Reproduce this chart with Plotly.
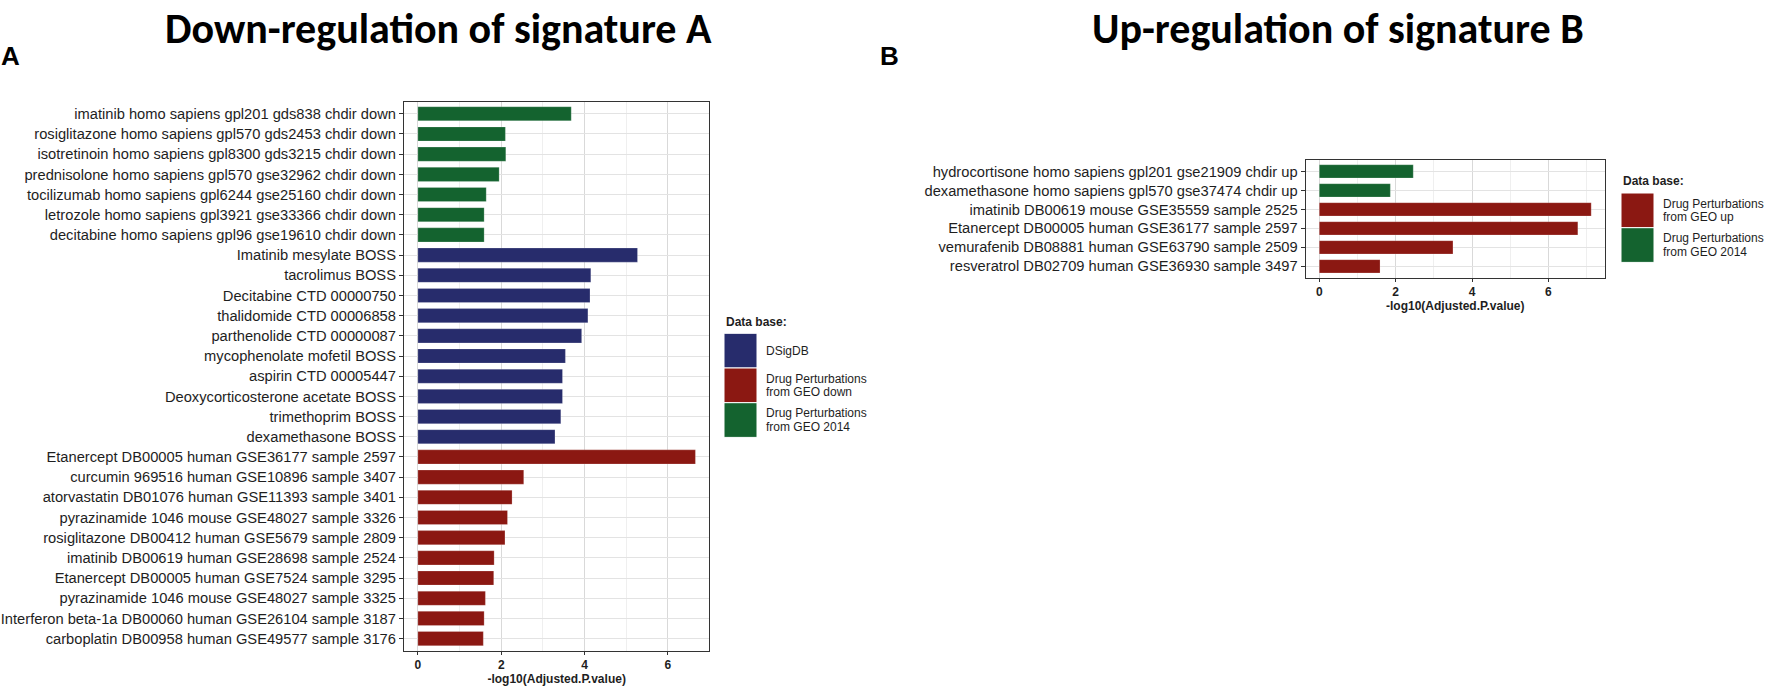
import plotly.graph_objects as go

# ---------------- data ----------------
a_labels = [
    "imatinib homo sapiens gpl201 gds838 chdir down",
    "rosiglitazone homo sapiens gpl570 gds2453 chdir down",
    "isotretinoin homo sapiens gpl8300 gds3215 chdir down",
    "prednisolone homo sapiens gpl570 gse32962 chdir down",
    "tocilizumab homo sapiens gpl6244 gse25160 chdir down",
    "letrozole homo sapiens gpl3921 gse33366 chdir down",
    "decitabine homo sapiens gpl96 gse19610 chdir down",
    "Imatinib mesylate BOSS",
    "tacrolimus BOSS",
    "Decitabine CTD 00000750",
    "thalidomide CTD 00006858",
    "parthenolide CTD 00000087",
    "mycophenolate mofetil BOSS",
    "aspirin CTD 00005447",
    "Deoxycorticosterone acetate BOSS",
    "trimethoprim BOSS",
    "dexamethasone BOSS",
    "Etanercept DB00005 human GSE36177 sample 2597",
    "curcumin 969516 human GSE10896 sample 3407",
    "atorvastatin DB01076 human GSE11393 sample 3401",
    "pyrazinamide 1046 mouse GSE48027 sample 3326",
    "rosiglitazone DB00412 human GSE5679 sample 2809",
    "imatinib DB00619 human GSE28698 sample 2524",
    "Etanercept DB00005 human GSE7524 sample 3295",
    "pyrazinamide 1046 mouse GSE48027 sample 3325",
    "Interferon beta-1a DB00060 human GSE26104 sample 3187",
    "carboplatin DB00958 human GSE49577 sample 3176",
]
a_values = [3.68, 2.10, 2.11, 1.95, 1.64, 1.59, 1.59,
            5.27, 4.15, 4.13, 4.08, 3.93, 3.54, 3.47, 3.47, 3.43, 3.29,
            6.66, 2.54, 2.26, 2.15, 2.09, 1.83, 1.82, 1.62, 1.59, 1.57]
a_db = (["Drug Perturbations from GEO 2014"] * 7
        + ["DSigDB"] * 10
        + ["Drug Perturbations from GEO down"] * 10)
a_legend = ["DSigDB", "Drug Perturbations from GEO down", "Drug Perturbations from GEO 2014"]

b_labels = [
    "hydrocortisone homo sapiens gpl201 gse21909 chdir up",
    "dexamethasone homo sapiens gpl570 gse37474 chdir up",
    "imatinib DB00619 mouse GSE35559 sample 2525",
    "Etanercept DB00005 human GSE36177 sample 2597",
    "vemurafenib DB08881 human GSE63790 sample 2509",
    "resveratrol DB02709 human GSE36930 sample 3497",
]
b_values = [2.46, 1.86, 7.12, 6.77, 3.50, 1.59]
b_db = (["Drug Perturbations from GEO 2014"] * 2
        + ["Drug Perturbations from GEO up"] * 4)
b_legend = ["Drug Perturbations from GEO up", "Drug Perturbations from GEO 2014"]

x_ticks = [0, 2, 4, 6]
x_title = "-log10(Adjusted.P.value)"
title_a = "Down-regulation of signature A"
title_b = "Up-regulation of signature B"
legend_title = "Data base:"

# ---------------- style ----------------
W, H = 1772, 686
COLORS = {
    "DSigDB": "#272C6C",
    "Drug Perturbations from GEO down": "#8B1812",
    "Drug Perturbations from GEO up": "#8B1812",
    "Drug Perturbations from GEO 2014": "#14632F",
}
TXT = "#1E1E1E"
SANS = "Liberation Sans, Arial, sans-serif"
TITLE_FONT = "Carlito, Lato, sans-serif"


def px(x):
    return x / W


def py(y):
    return 1 - y / H


fig = go.Figure()


def add_panel(labels, values, dbs, xa, ya):
    for db in dict.fromkeys(dbs):
        xs = [v for v, d in zip(values, dbs) if d == db]
        ys = [l for l, d in zip(labels, dbs) if d == db]
        fig.add_trace(go.Bar(
            x=xs, y=ys, orientation="h", width=0.7,
            marker=dict(color=COLORS[db], line=dict(color="rgba(255,255,255,0.35)", width=0.6)),
            xaxis=xa, yaxis=ya, showlegend=False, name=db,
        ))


add_panel(a_labels, a_values, a_db, "x", "y")
add_panel(b_labels, b_values, b_db, "x2", "y2")


def xaxis_cfg(domain, values, anchor):
    m = max(values)
    return dict(
        domain=domain, anchor=anchor,
        range=[-0.05 * m, 1.05 * m],
        tickvals=x_ticks, ticktext=[str(t) for t in x_ticks],
        tickfont=dict(family=SANS, size=12, color=TXT, weight="bold"),
        ticks="outside", ticklen=3, tickcolor="#333333", tickwidth=1,
        showgrid=True, gridcolor="#D9D9D9", gridwidth=1,
        minor=dict(dtick=1, tick0=0, showgrid=True, gridcolor="#EFEFEF", gridwidth=1, ticks=""),
        zeroline=False,
        showline=True, mirror=True, linecolor="#333333", linewidth=1.2,
        title=dict(text=x_title, font=dict(family=SANS, size=12, color=TXT, weight="bold"), standoff=3),
        fixedrange=True,
    )


def yaxis_cfg(domain, labels, anchor):
    n = len(labels)
    return dict(
        domain=domain, anchor=anchor,
        type="category", categoryorder="array", categoryarray=labels,
        range=[n - 0.4, -0.6],
        tickfont=dict(family=SANS, size=14.7, color=TXT),
        ticks="outside", ticklen=4, tickcolor="#333333", tickwidth=1,
        showgrid=True, gridcolor="#E3E3E3", gridwidth=1,
        zeroline=False,
        showline=True, mirror=True, linecolor="#333333", linewidth=1.2,
        fixedrange=True,
    )


# panel geometry (pixels)
A_L, A_R, A_T, A_B = 404, 709.3, 101.7, 650.7
B_L, B_R, B_T, B_B = 1305.7, 1604.8, 160.0, 277.7

fig.update_layout(
    width=W, height=H,
    margin=dict(l=0, r=0, t=0, b=0),
    paper_bgcolor="white", plot_bgcolor="white",
    bargap=0.3,
    xaxis=xaxis_cfg([px(A_L), px(A_R)], a_values, "y"),
    yaxis=yaxis_cfg([py(A_B), py(A_T)], a_labels, "x"),
    xaxis2=xaxis_cfg([px(B_L), px(B_R)], b_values, "y2"),
    yaxis2=yaxis_cfg([py(B_B), py(B_T)], b_labels, "x2"),
    showlegend=False,
)

annotations = []
shapes = []

# titles and panel letters
for t, cx in ((title_a, 438), (title_b, 1338)):
    annotations.append(dict(text=t, x=px(cx), y=py(28), xref="paper", yref="paper",
                            xanchor="center", yanchor="middle", showarrow=False,
                            font=dict(family=TITLE_FONT, size=42, color="#000000", weight="bold")))
for letter, lx in (("A", 10), ("B", 889)):
    annotations.append(dict(text=letter, x=px(lx), y=py(56), xref="paper", yref="paper",
                            xanchor="center", yanchor="middle", showarrow=False,
                            font=dict(family=SANS, size=26, color="#000000", weight="bold")))


def add_legend(items, x0, title_y, key_top, key_w=33, key_h=34.7):
    annotations.append(dict(text=legend_title, x=px(x0), y=py(title_y), xref="paper", yref="paper",
                            xanchor="left", yanchor="middle", showarrow=False,
                            font=dict(family=SANS, size=12, color=TXT, weight="bold")))
    for i, db in enumerate(items):
        t = key_top + i * key_h
        shapes.append(dict(type="rect", xref="paper", yref="paper",
                           x0=px(x0), x1=px(x0 + key_w), y0=py(t + key_h), y1=py(t),
                           fillcolor=COLORS[db], line=dict(color="white", width=1)))
        if db == "DSigDB":
            lines = ["DSigDB"]
        else:
            lines = ["Drug Perturbations", db.replace("Drug Perturbations ", "")]
        cy = t + key_h / 2
        offs = [0] if len(lines) == 1 else [-6.7, 6.7]
        for ln, o in zip(lines, offs):
            annotations.append(dict(text=ln, x=px(x0 + key_w + 7), y=py(cy + o), xref="paper", yref="paper",
                                    xanchor="left", yanchor="middle", showarrow=False,
                                    font=dict(family=SANS, size=12, color=TXT)))


add_legend(a_legend, 724, 321.7, 333.3)
add_legend(b_legend, 1621, 180.5, 193.0)

fig.update_layout(annotations=annotations, shapes=shapes)

fig.write_html(
    "out.html",
    config={"displayModeBar": False},
    post_script="document.body.style.margin='0';document.body.style.overflow='hidden';",
)
